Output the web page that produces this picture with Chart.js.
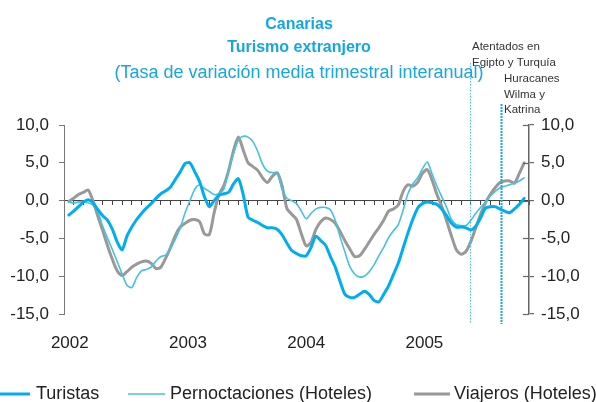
<!DOCTYPE html>
<html>
<head>
<meta charset="utf-8">
<script src="https://cdn.jsdelivr.net/npm/chart.js@4.4.1/dist/chart.umd.min.js"></script>
<style>
  html, body { margin: 0; padding: 0; background: #fff; }
</style>
</head>
<body>
<canvas id="turismoChart" width="596" height="402"></canvas>
<script>
// year labels and where they sit on the month axis
const years = ['2002', '2003', '2004', '2005'];
const yearPos = [0.6, 12.8, 25.0, 37.2];

// half-month readings, first point at month 0.5
const turistas = [
  -1.9, -1.4, -0.8, -0.2, 0.1, -0.3, -1.2, -2.0, -2.6, -3.8, -5.5, -6.5,
  -4.7, -3.5, -2.5, -1.7, -1.0, -0.4, 0.3, 0.9, 1.3, 1.8, 2.8, 3.8,
  4.9, 5.0, 3.8, 2.5, 0.5, -0.8, 0.0, 0.7, 0.9, 1.1, 2.2, 2.9,
  0.8, -2.2, -2.6, -2.9, -3.3, -3.6, -3.6, -3.8, -4.5, -5.6, -6.6, -7.0,
  -7.3, -7.3, -6.2, -4.7, -5.3, -5.9, -7.4, -8.8, -10.7, -12.4, -12.8, -12.8,
  -12.4, -12.0, -12.4, -13.2, -13.4, -12.4, -11.3, -9.8, -8.3, -6.3, -4.3, -2.5,
  -1.0, -0.4, -0.2, -0.3, -0.5, -1.1, -2.0, -3.0, -3.5, -3.5, -3.6, -3.9,
  -3.4, -2.3, -1.0, -0.8, -0.8, -1.1, -1.4, -1.6, -1.1, -0.5, 0.3
];
const pernoctaciones = [
  -0.2, -0.3, -0.2, -0.1, -0.3, -0.6, -1.5, -3.4, -5.0, -6.5, -8.1, -9.7,
  -11.2, -11.5, -10.2, -9.3, -9.1, -8.8, -8.0, -7.4, -7.2, -6.3, -5.1, -3.6,
  -1.6, 0.0, 1.5, 2.1, 1.6, 1.2, 0.8, 0.9, 1.5, 4.0, 6.2, 8.0,
  8.5, 8.4, 7.8, 6.5, 4.8, 3.9, 3.7, 3.7, 1.5, 0.3, 0.0, -0.4,
  -1.4, -2.4, -1.7, -1.1, -0.9, -0.9, -1.2, -2.6, -4.8, -6.8, -8.7, -9.7,
  -10.1, -10.0, -9.4, -8.5, -7.3, -6.2, -4.9, -4.0, -3.2, -1.3, 0.9, 2.2,
  3.0, 4.2, 5.1, 3.5, 1.9, 0.5, -0.9, -2.5, -3.2, -3.3, -3.3, -2.6,
  -1.7, -0.9, -0.2, 0.6, 1.2, 1.7, 1.9, 2.1, 2.3, 2.6, 3.0
];
const viajeros = [
  -0.1, 0.3, 0.8, 1.1, 1.4, -0.1, -2.1, -4.0, -6.0, -7.8, -9.3, -9.9,
  -9.4, -8.8, -8.4, -8.1, -8.0, -8.3, -9.0, -8.8, -7.6, -6.2, -4.6, -3.5,
  -3.0, -2.6, -2.5, -2.8, -4.4, -4.5, -1.6, 0.8, 2.0, 4.0, 6.6, 8.4,
  6.7, 5.0, 4.5, 4.0, 3.0, 2.4, 3.2, 3.7, 2.0, -1.0, -1.8, -2.5,
  -4.4, -6.0, -5.5, -3.8, -2.8, -2.3, -2.5, -3.0, -4.1, -5.3, -6.4, -7.4,
  -7.3, -6.5, -5.5, -4.5, -3.6, -2.6, -1.4, -1.1, -0.6, 1.2, 2.1, 1.9,
  2.4, 3.6, 4.1, 2.7, 0.8, -0.8, -2.7, -4.7, -6.5, -7.1, -6.7, -5.4,
  -3.6, -1.8, -0.3, 0.8, 1.7, 2.4, 2.6, 2.6, 2.3, 3.6, 5.0
];

// event markers (month position) and their notes
const eventPos = [41.9, 45.1];
const eventNotes = [
  ['Atentados en', 'Egipto y Turquía'],
  ['Huracanes', 'Wilma y', 'Katrina']
];

const FONT = 'Liberation Sans, Arial, Helvetica, sans-serif';
const BLUE = '#14a7e2';

const pts = arr => arr.map((v, i) => ({ x: 0.5 + i * 0.5, y: v }));
const fmt = v => v.toFixed(1).replace('.', ',');

const decor = {
  id: 'decor',
  afterDraw(chart) {
    const ctx = chart.ctx;
    const xs = chart.scales.x;
    const ys = chart.scales.y2;
    ctx.save();

    // inner tick marks on the right axis
    ctx.strokeStyle = '#666';
    ctx.lineWidth = 1.2;
    [10, 5, 0, -5, -10, -15].forEach(v => {
      const py = Math.round(ys.getPixelForValue(v)) + 0.5;
      ctx.beginPath();
      ctx.moveTo(ys.left - 6, py);
      ctx.lineTo(ys.left, py);
      ctx.stroke();
    });

    // event lines
    const tops = [63, 104];
    eventPos.forEach((m, i) => {
      const px = Math.round(xs.getPixelForValue(m)) + 0.5;
      ctx.beginPath();
      if (i === 0) {
        ctx.strokeStyle = '#3cc0ee';
        ctx.lineWidth = 1;
        ctx.setLineDash([1.5, 1.5]);
      } else {
        ctx.strokeStyle = '#1aa5e0';
        ctx.lineWidth = 2;
        ctx.setLineDash([2, 1]);
      }
      ctx.moveTo(px, tops[i]);
      ctx.lineTo(px, 324);
      ctx.stroke();
    });
    ctx.setLineDash([]);

    // event notes
    ctx.fillStyle = '#333';
    ctx.font = '11.5px ' + FONT;
    ctx.textAlign = 'left';
    ctx.textBaseline = 'middle';
    eventNotes[0].forEach((t, k) => ctx.fillText(t, 472, 47 + k * 16));
    eventNotes[1].forEach((t, k) => ctx.fillText(t, 504, 79 + k * 15.5));

    // titles
    ctx.textAlign = 'center';
    ctx.fillStyle = BLUE;
    ctx.font = 'bold 16px ' + FONT;
    ctx.fillText('Canarias', 299, 25);
    ctx.fillText('Turismo extranjero', 299, 48);
    ctx.font = '18px ' + FONT;
    ctx.fillText('(Tasa de variación media trimestral interanual)', 299, 73);

    // legend
    const spots = [[0, 30, 36], [128, 165, 170], [414, 450, 454]];
    ctx.textAlign = 'left';
    ctx.font = '18px ' + FONT;
    chart.data.datasets.forEach((ds, i) => {
      const [a, b, tx] = spots[i];
      ctx.strokeStyle = ds.borderColor;
      ctx.lineWidth = ds.borderWidth;
      ctx.beginPath();
      ctx.moveTo(a, 394);
      ctx.lineTo(b, 394);
      ctx.stroke();
      ctx.fillStyle = '#222';
      ctx.fillText(ds.label, tx, 394);
    });
    ctx.restore();
  }
};

const ctx = document.getElementById('turismoChart').getContext('2d');
const chart = new Chart(ctx, {
  type: 'line',
  data: {
    datasets: [
      { label: 'Turistas', data: pts(turistas), borderColor: '#00aeef', borderWidth: 3 },
      { label: 'Pernoctaciones (Hoteles)', data: pts(pernoctaciones), borderColor: '#45c2dd', borderWidth: 1.6 },
      { label: 'Viajeros (Hoteles)', data: pts(viajeros), borderColor: '#999999', borderWidth: 3 }
    ]
  },
  options: {
    responsive: false,
    animation: false,
    events: [],
    layout: { padding: { top: 125, left: 0, right: 0, bottom: 0 } },
    elements: {
      point: { radius: 0 },
      line: { tension: 0.25, borderJoinStyle: 'round', borderCapStyle: 'round' }
    },
    plugins: { legend: { display: false }, tooltip: { enabled: false } },
    scales: {
      x: {
        type: 'linear', position: 'bottom', min: 0, max: 48,
        afterBuildTicks: s => { s.ticks = yearPos.map(v => ({ value: v })); },
        afterFit: s => { s.height = 88; },
        ticks: {
          callback: (v, i) => years[i],
          font: { family: FONT, size: 17 }, color: '#222',
          padding: 19, maxRotation: 0, autoSkip: false
        },
        grid: { display: false, drawTicks: false },
        border: { display: false }
      },
      xz: {
        type: 'linear', position: { y: 0 }, min: 0, max: 48,
        afterBuildTicks: s => { s.ticks = Array.from({ length: 49 }, (_, k) => ({ value: k })); },
        ticks: { display: false },
        grid: { drawOnChartArea: false, tickLength: 4, color: '#444', lineWidth: 1 },
        border: { color: '#444', width: 1 }
      },
      y: {
        position: 'left', min: -15, max: 10,
        afterFit: s => { s.width = 64; },
        ticks: { stepSize: 5, callback: fmt, font: { family: FONT, size: 17 }, color: '#222', padding: 10 },
        grid: { drawOnChartArea: false, tickLength: 5, color: '#777', lineWidth: 1 },
        border: { color: '#777', width: 1 }
      },
      y2: {
        position: 'right', min: -15, max: 10,
        afterFit: s => { s.width = 67; },
        ticks: { stepSize: 5, callback: fmt, font: { family: FONT, size: 17 }, color: '#222', padding: 7 },
        grid: { drawOnChartArea: false, tickLength: 5, color: '#666', lineWidth: 1.2 },
        border: { color: '#666', width: 1.5 }
      }
    }
  },
  plugins: [decor]
});
</script>
</body>
</html>
